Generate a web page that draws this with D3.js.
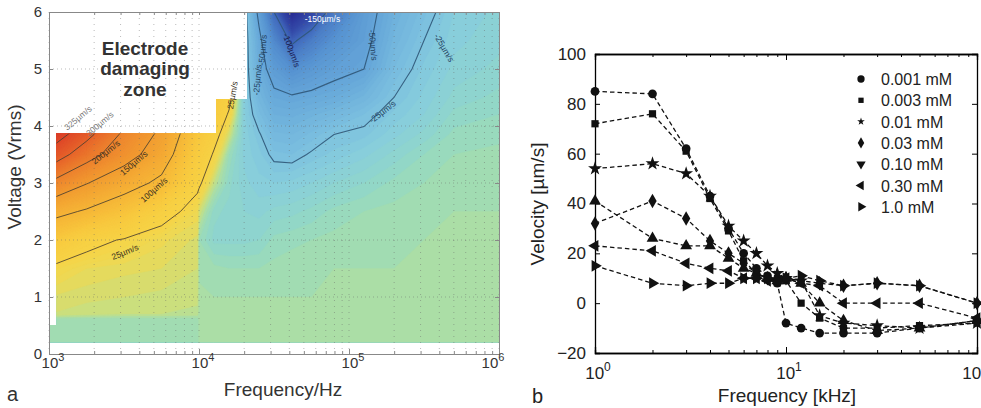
<!DOCTYPE html>
<html><head><meta charset="utf-8">
<script src="https://cdn.jsdelivr.net/npm/d3@7"></script>
<style>body{margin:0;background:#fff}svg{display:block;font-family:"Liberation Sans",Arial,Helvetica,sans-serif}</style>
</head><body><svg id="c" width="981" height="408"></svg>
<script>
// ---------- Panel a data (velocity map, µm/s) ----------
const mapFreq = [1000, 1778, 3162, 5623, 9772, 10000, 12589, 15849, 19953, 25119, 31623, 41687, 56234, 79433, 125893, 199526, 316228, 501187, 1000000];
const mapVolt = [0.2, 0.6, 0.7, 1.0, 1.5, 2.0, 2.5, 3.0, 3.5, 3.85, 4.2, 4.5, 5.0, 5.5, 6.0];
const velocityRows = [
  [-4,-4,-4,-4,-4, 0,0,0,0,0,0,0,0,0,0,0,0,0,0],
  [-4,-4,-4,-4,-4, 0,0,0,0,0,0,0,0,0,0,0,0,0,0],
  [8,6,5,5,4, 0,0,0,0,0,0,0,0,0,0,0,0,0,0],
  [11,9,8,7,6, 0,-1,-1,-1,-1,-1,-1,-1,0,0,0,0,0,0],
  [22,14,12,11,8, -2,-3,-4,-4,-4,-3,-2,-2,-1,-1,-1,0,0,0],
  [63,33,23,15,10, -4,-11,-11,-11,-10,-6,-5,-4,-3,-2,-2,-1,0,0],
  [116,95,70,35,16, 8,-9,-11,-13,-14,-12,-11,-9,-6,-4,-3,-2,-1,-1],
  [197,152,120,90,30, 29,5,-9,-15,-18,-19,-18,-16,-13,-10,-6,-4,-3,-2],
  [286,220,170,125,48, 47,22,-4,-17,-21,-27,-28,-24,-21,-17,-12,-7,-4,-3],
  [335,265,190,140,62, 60,35,8,-17,-24,-33,-34,-30,-25,-23,-17,-12,-6,-5],
  [380,310,220,160,75, 73,48,22,-18,-30,-40,-41,-38,-34,-28,-21,-16,-9,-7],
  [400,330,240,170,85, 83,58,33,-18,-35,-46,-48,-46,-43,-36,-25,-18,-12,-9],
  [420,350,260,180,95, 93,70,45,-18,-42,-58,-70,-62,-55,-50,-31,-21,-15,-12],
  [430,360,270,190,100, 98,75,50,-18,-45,-75,-105,-85,-68,-55,-36,-25,-17,-14],
  [440,370,280,200,105, 103,80,55,-18,-55,-100,-150,-125,-88,-58,-40,-29,-19,-15]
];
// measured (non-damaging) region outline
const maskFreq = [1000, 1000000, 1000000, 21000, 21000, 13000, 13000, 1120, 1120, 1000];
const maskVolt = [0.2, 0.2, 6, 6, 4.47, 4.47, 3.87, 3.87, 0.51, 0.51];
const posLevels = [25, 100, 150, 200, 250, 300];
const negLevels = [-25, -50, -100];
const cmapVals = [-160,-145,-120,-95,-70,-45,-28,-18,-10,-4,0,6,14,25,60,100,150,200,250,300,350,440];
const cmapCols = ["#23237f","#2a2f96","#3448a8","#4470c0","#5590d0","#68aada","#7bbfe0","#87cddc","#8fd6cc","#9cdbb8","#a8dea9","#c9df80","#ecd955","#f7d345","#f8c83e","#f6b537","#f29c31","#ed822e","#e7642b","#df4829","#d63327","#c41f24"];
const contourLabels = [
  {t:"325µm/s", f:1560, v:4.14, r:-40, c:"#777"},
  {t:"300µm/s", f:2180, v:4.04, r:-40, c:"#777"},
  {t:"200µm/s", f:2390, v:3.54, r:-38, c:"#3a3020"},
  {t:"150µm/s", f:3680, v:3.35, r:-40, c:"#3a3020"},
  {t:"100µm/s", f:5010, v:2.88, r:-42, c:"#3a3020"},
  {t:"25µm/s", f:3210, v:1.79, r:-22, c:"#3a3020"},
  {t:"25µm/s", f:16700, v:4.54, r:-80, c:"#3a3020"},
  {t:"-150µm/s", f:66500, v:5.88, r:0, c:"#ffffff"},
  {t:"-25µm/s", f:24500, v:4.81, r:-85, c:"#23415e"},
  {t:"-50µm/s", f:26500, v:5.33, r:-85, c:"#23415e"},
  {t:"-100µm/s", f:41400, v:5.33, r:70, c:"#1a1a50"},
  {t:"-50µm/s", f:145000, v:5.42, r:85, c:"#23415e"},
  {t:"-25µm/s", f:431000, v:5.37, r:60, c:"#23415e"},
  {t:"-25µm/s", f:167000, v:4.25, r:-38, c:"#23415e"}
];
const voltTicks = [0,1,2,3,4,5,6];
const freqDecadesA = [3,4,5,6];

// ---------- Panel b data (velocity vs frequency) ----------
const freqB = [1,2,3,4,5,6,7,8,9,10,12,15,20,30,50,100];
const conc = ["0.001 mM","0.003 mM","0.01 mM","0.03 mM","0.10 mM","0.30 mM","1.0 mM"];
const v0001 = [85, 84, 62, 43, 30, 20, 14, 11, 8, -8, -10, -12, -12, -12, -10, -7];
const v0003 = [72, 76, 61, 42, 29, 17, 12, 10, 9, 9, 0, -6, -10, -10, -9, -8];
const v001  = [54, 56, 52, 43, 31, 25, 20, 15, 12, 10, 9, -5, -8, -9, -10, -8];
const v003  = [32, 41, 34, 25, 20, 16, 12, 10, 10, 10, 9, 8, 7, 8, 7, 0];
const v010  = [41, 26, 23, 23, 18, 14, 12, 10, 9, 10, 8, 0, -7, -11, -10, -7];
const v030  = [23, 21, 16, 14, 13, 10, 10, 9, 9, 10, 8, 7, 0, 0, 0, -6];
const v10   = [15, 8, 7, 8, 8, 10, 10, 10, 9, 10, 11, 9, 7, 8, 7, 0];
const velTicks = [-20,0,20,40,60,80,100];
const freqDecadesB = [0,1,2];

// ================= drawing =================
const svg = d3.select("#c");
const FONT = '"Liberation Sans",Arial,Helvetica,sans-serif';

// ---- Panel a ----
const xA = d3.scaleLog().domain([1e3,1e6]).range([49,499]);
const yA = d3.scaleLinear().domain([0,6]).range([354,12]);
const cmap = d3.scaleLinear().domain(cmapVals).range(cmapCols).clamp(true);

const defs = svg.append("defs");
defs.append("clipPath").attr("id","maskA").append("polygon")
  .attr("points", maskFreq.map((f,i)=>xA(f)+","+yA(maskVolt[i])).join(" "));

const nx = mapFreq.length, ny = mapVolt.length;
const flat = [].concat(...velocityRows);
const colX = mapFreq.map(f=>xA(f));
const rowY = mapVolt.map(v=>yA(v));
function interp(arr,c){const n=arr.length;const t=Math.max(0,Math.min(n-1,c-0.5));const i=Math.min(n-2,Math.floor(t));return arr[i]+(arr[i+1]-arr[i])*(t-i);}
const proj = d3.geoTransform({point(x,y){this.stream.point(interp(colX,x),interp(rowY,y));}});
const gpath = d3.geoPath(proj);

const gMap = svg.append("g").attr("clip-path","url(#maskA)");
const thresholds = d3.range(-160,445,3);
const fills = d3.contours().size([nx,ny]).thresholds(thresholds)(flat);
gMap.selectAll("path.f").data(fills).join("path").attr("class","f")
  .attr("d",gpath).attr("fill",d=>cmap(d.value+1.5)).attr("stroke",d=>cmap(d.value+1.5)).attr("stroke-width",0.3);

const posC = d3.contours().size([nx,ny]).thresholds(posLevels)(flat);
gMap.selectAll("path.pl").data(posC).join("path").attr("class","pl")
  .attr("d",gpath).attr("fill","none").attr("stroke","#4a4030").attr("stroke-width",1).attr("opacity",0.85);
const negC = d3.contours().size([nx,ny]).thresholds(negLevels.map(v=>-v))(flat.map(v=>-v));
gMap.selectAll("path.nl").data(negC).join("path").attr("class","nl")
  .attr("d",gpath).attr("fill","none").attr("stroke","#2f5678").attr("stroke-width",1.1).attr("opacity",0.9);

// dotted grid
const minorA = [];
for (let k=3;k<6;k++) for (let m=1;m<10;m++) minorA.push(m*Math.pow(10,k));
minorA.push(1e6);
const gGrid = svg.append("g");
gGrid.selectAll("line.gv").data(minorA).join("line")
  .attr("x1",d=>xA(d)).attr("x2",d=>xA(d)).attr("y1",yA(6)).attr("y2",yA(0))
  .attr("stroke","#666").attr("stroke-opacity",0.45).attr("stroke-width",1).attr("stroke-dasharray","1,5");
gGrid.selectAll("line.gh").data([1,2,3,4,5]).join("line")
  .attr("x1",xA(1e3)).attr("x2",xA(1e6)).attr("y1",d=>yA(d)).attr("y2",d=>yA(d))
  .attr("stroke","#666").attr("stroke-opacity",0.45).attr("stroke-width",1).attr("stroke-dasharray","1,3");

// contour labels
svg.append("g").selectAll("text").data(contourLabels).join("text")
  .attr("transform",d=>`translate(${xA(d.f)},${yA(d.v)}) rotate(${d.r})`)
  .attr("text-anchor","middle").attr("dominant-baseline","central")
  .attr("font-size",8.5).attr("fill",d=>d.c).text(d=>d.t);

// electrode zone text
const ez = svg.append("text").attr("x",145).attr("font-size",19).attr("font-weight","bold").attr("fill","#333").attr("text-anchor","middle");
ez.append("tspan").attr("x",145).attr("y",55).text("Electrode");
ez.append("tspan").attr("x",145).attr("y",75).text("damaging");
ez.append("tspan").attr("x",145).attr("y",96).text("zone");

// axes a
const axA = svg.append("g").attr("font-family",FONT);
axA.append("g").attr("transform",`translate(0,${yA(0)})`)
  .call(d3.axisBottom(xA).tickValues(minorA).tickSize(-3).tickFormat(""));
axA.append("g").attr("transform",`translate(0,${yA(0)})`)
  .call(d3.axisBottom(xA).tickValues(freqDecadesA.map(k=>Math.pow(10,k))).tickSize(-5).tickFormat(""));
axA.append("g").attr("transform",`translate(0,${yA(6)})`)
  .call(d3.axisTop(xA).tickValues(minorA).tickSize(-3).tickFormat(""));
const ax4 = axA.append("g").attr("transform",`translate(${xA(1e3)},0)`)
  .call(d3.axisLeft(yA).tickValues(voltTicks).tickSize(-4).tickPadding(7).tickFormat(d3.format("d")));
axA.append("g").attr("transform",`translate(${xA(1e6)},0)`)
  .call(d3.axisRight(yA).tickValues(voltTicks).tickSize(-4).tickFormat(""));
axA.selectAll("path.domain,line").attr("stroke","#888");
ax4.selectAll("text").attr("font-size",15).attr("fill","#333");
axA.selectAll("text.dec").data(freqDecadesA).join("text").attr("class","dec")
  .attr("x",d=>xA(Math.pow(10,d))+ (d===6?-6:4)).attr("y",368).attr("text-anchor","middle")
  .attr("font-size",15).attr("fill","#333")
  .each(function(d){const t=d3.select(this);t.append("tspan").text("10");t.append("tspan").attr("dy",-7).attr("font-size",11).text(d);});
svg.append("text").attr("x",283).attr("y",396).attr("text-anchor","middle").attr("font-size",19).attr("fill","#333").text("Frequency/Hz");
svg.append("text").attr("transform","translate(21,167) rotate(-90)").attr("text-anchor","middle").attr("font-size",19).attr("fill","#333").text("Voltage (Vrms)");
svg.append("text").attr("x",7).attr("y",401).attr("font-size",20).attr("fill","#333").text("a");

// ---- Panel b ----
const xB = d3.scaleLog().domain([1,100]).range([595,977]);
const yB = d3.scaleLinear().domain([-20,100]).range([353,54]);
const minorB = [];
for (let k=0;k<2;k++) for (let m=1;m<10;m++) minorB.push(m*Math.pow(10,k));
minorB.push(100);
const axB = svg.append("g");
axB.append("g").attr("transform",`translate(0,${yB(-20)})`).call(d3.axisBottom(xB).tickValues(minorB).tickSize(-3).tickFormat(""));
axB.append("g").attr("transform",`translate(0,${yB(-20)})`).call(d3.axisBottom(xB).tickValues([1,10,100]).tickSize(-6).tickFormat(""));
axB.append("g").attr("transform",`translate(0,${yB(100)})`).call(d3.axisTop(xB).tickValues(minorB).tickSize(-3).tickFormat(""));
axB.append("g").attr("transform",`translate(0,${yB(100)})`).call(d3.axisTop(xB).tickValues([1,10,100]).tickSize(-6).tickFormat(""));
const ayB = axB.append("g").attr("transform",`translate(${xB(1)},0)`).call(d3.axisLeft(yB).tickValues(velTicks).tickSize(-5).tickPadding(9));
axB.append("g").attr("transform",`translate(${xB(100)},0)`).call(d3.axisRight(yB).tickValues(velTicks).tickSize(-5).tickFormat(""));
axB.selectAll("path.domain").attr("stroke","#000").attr("stroke-width",1.3);
axB.selectAll("line").attr("stroke","#000");
ayB.selectAll("text").attr("font-size",17).attr("fill","#222").attr("font-family",FONT);
axB.selectAll("text.dec").data(freqDecadesB).join("text").attr("class","dec")
  .attr("x",d=>xB(Math.pow(10,d))+(d===2?-2:3)).attr("y",379).attr("text-anchor","middle")
  .attr("font-size",17).attr("fill","#222")
  .each(function(d){const t=d3.select(this);t.append("tspan").text("10");t.append("tspan").attr("dy",-8).attr("font-size",12).text(d);});
svg.append("text").attr("x",787).attr("y",402).attr("text-anchor","middle").attr("font-size",19).attr("fill","#222").text("Frequency [kHz]");
svg.append("text").attr("transform","translate(544,204) rotate(-90)").attr("text-anchor","middle").attr("font-size",19).attr("fill","#222").text("Velocity [µm/s]");
svg.append("text").attr("x",532).attr("y",403).attr("font-size",20).attr("fill","#222").text("b");

const seriesB = [v0001,v0003,v001,v003,v010,v030,v10];
const plotSym = [
  {s:d3.symbolCircle,z:60,r:0},{s:d3.symbolSquare,z:52,r:0},{s:d3.symbolStar,z:60,r:0},
  {s:d3.symbolDiamond,z:60,r:0},{s:d3.symbolTriangle,z:60,r:0},{s:d3.symbolTriangle,z:60,r:-90},{s:d3.symbolTriangle,z:60,r:90}];
const legSym = [
  {s:d3.symbolCircle,z:42,r:0},{s:d3.symbolSquare,z:28,r:0},{s:d3.symbolStar,z:18,r:0},
  {s:d3.symbolDiamond,z:36,r:0},{s:d3.symbolTriangle,z:38,r:180},{s:d3.symbolTriangle,z:38,r:-90},{s:d3.symbolTriangle,z:38,r:90}];
const line = d3.line().x((d,i)=>xB(freqB[i])).y(d=>yB(d));
const gS = svg.append("g");
seriesB.forEach((vals,k)=>{
  gS.append("path").attr("d",line(vals)).attr("fill","none").attr("stroke","#111").attr("stroke-width",1.3).attr("stroke-dasharray","4.5,3");
});
seriesB.forEach((vals,k)=>{
  const sy = plotSym[k];
  gS.selectAll(null).data(vals).join("path")
    .attr("transform",(d,i)=>`translate(${xB(freqB[i])},${yB(d)}) rotate(${sy.r})`)
    .attr("d",d3.symbol(sy.s,sy.z)).attr("fill","#111");
});
// legend
const lg = svg.append("g");
conc.forEach((c,k)=>{
  const yy = 79 + k*21.3;
  const sy = legSym[k];
  lg.append("path").attr("transform",`translate(861,${yy}) rotate(${sy.r})`).attr("d",d3.symbol(sy.s,sy.z)).attr("fill","#111");
  lg.append("text").attr("x",881).attr("y",yy+6).attr("font-size",16).attr("fill","#222").text(c);
});
</script></body></html>
